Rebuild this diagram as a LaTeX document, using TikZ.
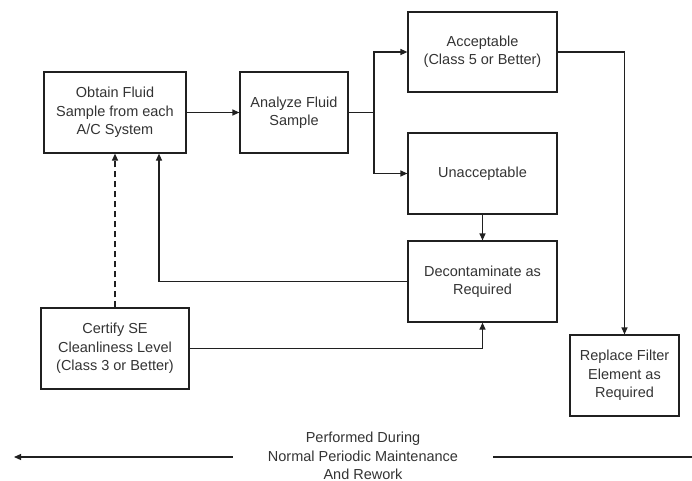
\documentclass[tikz,border=0pt]{standalone}
\usepackage{fontspec}
\setmainfont{Liberation Sans}
\usepackage{xcolor}
\usetikzlibrary{arrows.meta}
\definecolor{linecolor}{HTML}{202020}
\definecolor{textcolor}{HTML}{333333}

\tikzset{
    procbox/.style = {draw = linecolor, line width = 1.2pt, rectangle, align = center, text = textcolor, minimum height = 81pt, inner sep = 2pt},
    flow/.style = {draw = linecolor, line width = 1.2pt, -{Triangle[length = 7pt, width = 6pt]}},
    link/.style = {draw = linecolor, line width = 1.2pt}
}

\begin{document}
\begin{tikzpicture}[x = 1pt, y = -1pt, font = \fontsize{14.5}{18.3}\selectfont]
        \useasboundingbox (0, 0) rectangle (692, 480);

        % Nodes
        \node [procbox, minimum width = 142pt] (obtain) at (115, 112.5) {Obtain Fluid\\Sample from each\\A/C System};
        \node [procbox, minimum width = 108pt] (analyze) at (294, 112.5) {Analyze Fluid\\Sample};
        \node [procbox, minimum width = 149pt, minimum height = 80pt] (accept) at (482.5, 52) {Acceptable\\(Class 5 or Better)};
        \node [procbox, minimum width = 149pt] (unaccept) at (482.5, 173.5) {Unacceptable};
        \node [procbox, minimum width = 149pt] (decon) at (482.5, 281.5) {Decontaminate as\\Required};
        \node [procbox, minimum width = 148pt] (certify) at (115, 348.5) {Certify SE\\Cleanliness Level\\(Class 3 or Better)};
        \node [procbox, minimum width = 109pt] (replace) at (624.5, 375.5) {Replace Filter\\Element as\\Required};

        % Note along the bottom
        \node [align = center, text = textcolor, minimum width = 260pt] (note) at (363, 456) {Performed During\\Normal Periodic Maintenance\\And Rework};
        \coordinate (leftend) at (14, 457);
        \coordinate (rightend) at (692, 457);
        \coordinate (split) at (374, 112.5);

        % Draw the links
        \draw [flow] (obtain) -- (analyze);
        \draw [link] (analyze.east) -- (split);
        \draw [flow] (split) |- (accept.west);
        \draw [flow] (split) |- (unaccept.west);
        \draw [flow] (unaccept) -- (decon);
        \draw [flow] (accept.east) -| (replace.north);
        \draw [flow] (decon.west) -| ([xshift = 44pt]obtain.south);
        \draw [flow, dash pattern = on 6pt off 4pt] (certify) -- (obtain);
        \draw [flow] (certify.east) -| (decon.south);

        \draw [flow] (note.west |- leftend) -- (leftend);
        \draw [link] (note.east |- rightend) -- (rightend);

    \end{tikzpicture}
\end{document}
